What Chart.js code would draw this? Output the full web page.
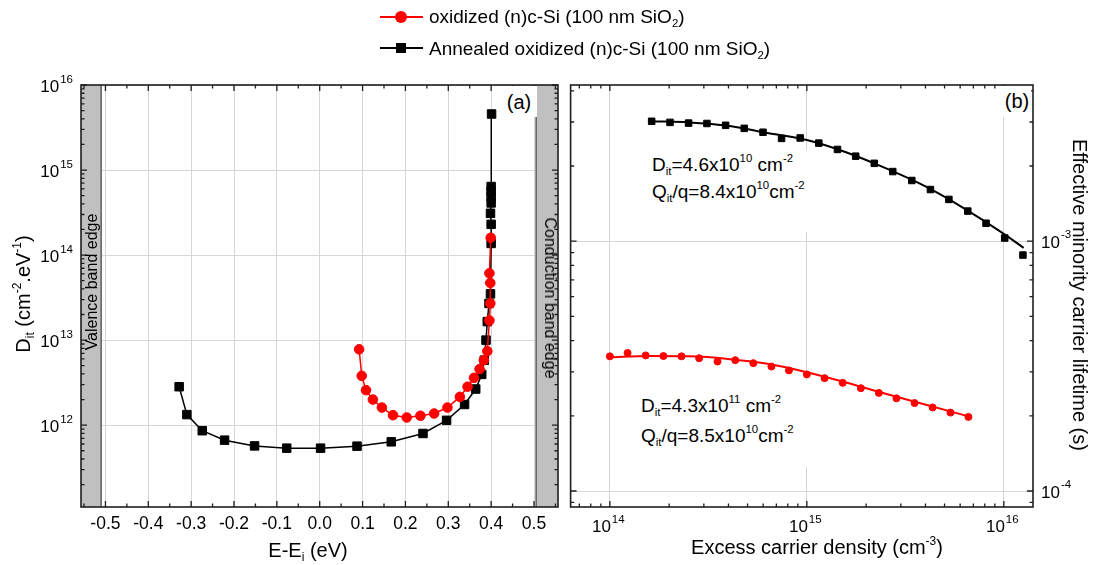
<!DOCTYPE html>
<html>
<head>
<meta charset="utf-8">
<script src="https://cdn.jsdelivr.net/npm/chart.js@4.4.1/dist/chart.umd.min.js"></script>
<style>
  body { margin: 0; background: #fff; font-family: "Liberation Sans", Arial, sans-serif; }
  #wrap { position: relative; width: 1093px; height: 565px; overflow: hidden; background: #fff; }
  canvas { position: absolute; top: 0; }
  .t { position: absolute; color: #000; white-space: nowrap; line-height: 1; }
  .t sub { font-size: 0.6em; vertical-align: -0.35em; line-height: 0; }
  .t sup { font-size: 0.6em; vertical-align: 0.75em; line-height: 0; }
  .box { position: absolute; background: #fff; }
  .mk { position: absolute; }
</style>
</head>
<body>
<div id="wrap">
  <canvas id="left" width="565" height="565" style="left:0"></canvas>
  <canvas id="right" width="528" height="565" style="left:565px"></canvas>

  <!-- legend -->
  <div class="mk" style="left:380px;top:16px;width:43px;height:2px;background:#ff0000"></div>
  <div class="mk" style="left:395px;top:11px;width:12px;height:12px;border-radius:50%;background:#ff0000"></div>
  <div class="t" style="left:429px;top:7px;font-size:19px">oxidized (n)c-Si (100 nm SiO<sub>2</sub>)</div>
  <div class="mk" style="left:380px;top:47px;width:43px;height:2px;background:#000"></div>
  <div class="mk" style="left:396px;top:43px;width:10px;height:10px;background:#000"></div>
  <div class="t" style="left:429px;top:39px;font-size:19px">Annealed oxidized (n)c-Si (100 nm SiO<sub>2</sub>)</div>

  <!-- panel labels -->
  <div class="box" style="left:503px;top:86px;width:34px;height:31px"></div>
  <div class="t" style="left:519px;top:92px;font-size:20px;transform:translateX(-50%)">(a)</div>
  <div class="box" style="left:996px;top:86px;width:35px;height:31px"></div>
  <div class="t" style="left:1017px;top:91px;font-size:20px;transform:translateX(-50%)">(b)</div>

  <!-- band edges -->
  <div class="t" style="left:92px;top:282px;font-size:16px;transform:translate(-50%,-50%) rotate(-90deg)">Valence band edge</div>
  <div class="t" style="left:550px;top:298px;font-size:16px;transform:translate(-50%,-50%) rotate(90deg)">Conduction band edge</div>

  <!-- fit annotations -->
  <div class="box" style="left:640px;top:150px;width:176px;height:82px"></div>
  <div class="t" style="left:652px;top:155px;font-size:19px">D<sub>it</sub>=4.6x10<sup>10</sup> cm<sup>-2</sup></div>
  <div class="t" style="left:652px;top:182px;font-size:19px">Q<sub>it</sub>/q=8.4x10<sup>10</sup>cm<sup>-2</sup></div>
  <div class="box" style="left:632px;top:380px;width:184px;height:87px"></div>
  <div class="t" style="left:641px;top:396px;font-size:19px">D<sub>it</sub>=4.3x10<sup>11</sup> cm<sup>-2</sup></div>
  <div class="t" style="left:641px;top:426px;font-size:19px">Q<sub>it</sub>/q=8.5x10<sup>10</sup>cm<sup>-2</sup></div>

  <!-- axis titles -->
  <div class="t" style="left:23px;top:294px;font-size:20px;transform:translate(-50%,-50%) rotate(-90deg)">D<sub>it</sub> (cm<sup>-2</sup>.eV<sup>-1</sup>)</div>
  <div class="t" style="left:308px;top:540px;font-size:20px;transform:translateX(-50%)">E-E<sub>i</sub> (eV)</div>
  <div class="t" style="left:817px;top:537px;font-size:20px;transform:translateX(-50%)">Excess carrier density (cm<sup>-3</sup>)</div>
  <div class="t" style="left:1080px;top:295px;font-size:20px;transform:translate(-50%,-50%) rotate(90deg)">Effective minority carrier lifetime (s)</div>
</div>

<script>
// ---- panel (a): Dit vs E-Ei ----
const energyOx = [0.092, 0.098, 0.108, 0.124, 0.145, 0.171, 0.203, 0.235, 0.267, 0.298, 0.327,
    0.345, 0.360, 0.373, 0.383, 0.391, 0.396, 0.398, 0.398, 0.396, 0.399];
const ditOx = [7.8e12, 3.8e12, 2.58e12, 2.0e12, 1.61e12, 1.31e12, 1.23e12, 1.29e12, 1.37e12, 1.61e12, 2.15e12,
    2.83e12, 3.6e12, 4.56e12, 5.8e12, 7.4e12, 1.7e13, 2.7e13, 4.7e13, 6.1e13, 1.6e14];

const energyAnn = [-0.328, -0.310, -0.274, -0.222, -0.152, -0.077, 0.002, 0.087, 0.167, 0.241, 0.296,
    0.338, 0.364, 0.378, 0.384, 0.388, 0.391, 0.395, 0.3985, 0.400, 0.400, 0.3985, 0.400, 0.400, 0.400, 0.400, 0.401];
const ditAnn = [2.83e12, 1.33e12, 8.6e11, 6.66e11, 5.7e11, 5.36e11, 5.36e11, 5.66e11, 6.37e11, 7.98e11, 1.14e12,
    1.75e12, 2.66e12, 3.95e12, 5.8e12, 1.0e13, 1.65e13, 2.7e13, 3.5e13, 1.37e14, 2.3e14, 3.1e14, 4.1e14, 4.9e14, 5.6e14, 6.4e14, 4.56e15];

const energyTicks = [-0.5, -0.4, -0.3, -0.2, -0.1, 0.0, 0.1, 0.2, 0.3, 0.4, 0.5];
const ditTicks = [1e12, 1e13, 1e14, 1e15, 1e16];

// ---- panel (b): lifetime vs excess carrier density ----
const densityOx = [1.0e14, 1.23e14, 1.52e14, 1.87e14, 2.31e14, 2.84e14, 3.52e14, 4.33e14, 5.35e14, 6.61e14, 8.11e14,
    1.0e15, 1.23e15, 1.52e15, 1.88e15, 2.32e15, 2.85e15, 3.52e15, 4.35e15, 5.36e15, 6.61e15];
const tauOx = [3.46e-4, 3.57e-4, 3.49e-4, 3.47e-4, 3.46e-4, 3.40e-4, 3.30e-4, 3.34e-4, 3.25e-4, 3.15e-4, 3.04e-4,
    2.93e-4, 2.83e-4, 2.71e-4, 2.58e-4, 2.47e-4, 2.35e-4, 2.25e-4, 2.16e-4, 2.06e-4, 1.98e-4];
const fitDensityOx = [1.0e14, 1.58e14, 2.51e14, 3.98e14, 6.31e14, 1.0e15, 1.58e15, 2.51e15, 3.98e15, 6.61e15];
const fitTauOx = [3.43e-4, 3.47e-4, 3.46e-4, 3.38e-4, 3.23e-4, 2.99e-4, 2.72e-4, 2.45e-4, 2.22e-4, 1.99e-4];

const densityAnn = [1.63e14, 2.02e14, 2.51e14, 3.11e14, 3.87e14, 4.81e14, 5.99e14, 7.44e14, 9.25e14, 1.15e15, 1.43e15,
    1.77e15, 2.20e15, 2.73e15, 3.41e15, 4.24e15, 5.26e15, 6.56e15, 8.12e15, 1.01e16, 1.25e16];
const tauAnn = [3.02e-3, 2.99e-3, 2.97e-3, 2.96e-3, 2.91e-3, 2.83e-3, 2.73e-3, 2.58e-3, 2.59e-3, 2.47e-3, 2.33e-3,
    2.19e-3, 2.05e-3, 1.90e-3, 1.75e-3, 1.61e-3, 1.47e-3, 1.32e-3, 1.18e-3, 1.03e-3, 8.8e-4];
const fitDensityAnn = [1.63e14, 2.51e14, 3.98e14, 6.31e14, 1.0e15, 1.58e15, 2.51e15, 3.98e15, 6.31e15, 1.0e16, 1.26e16];
const fitTauAnn = [3.02e-3, 2.99e-3, 2.90e-3, 2.71e-3, 2.54e-3, 2.27e-3, 1.96e-3, 1.66e-3, 1.35e-3, 1.07e-3, 9.4e-4];

const densityTicks = [1e14, 1e15, 1e16];
const tauTicks = [1e-4, 1e-3];

const RED = '#ff0000';
const BLACK = '#000000';
const GRID = '#d6d6d6';
const FONT = '"Liberation Sans", Arial, sans-serif';

const pts = (xs, ys) => xs.map((x, i) => ({ x: x, y: ys[i] }));

function logMinors(lo, hi) {
    const out = [];
    for (let e = Math.floor(Math.log10(lo)); e <= Math.ceil(Math.log10(hi)); e++) {
        for (let m = 2; m <= 9; m++) {
            const v = m * Math.pow(10, e);
            if (v >= lo && v <= hi) out.push(v);
        }
    }
    return out;
}

// draws "10" with a small raised exponent
function powLabel(ctx, v, x, y, mode) {
    const exp = String(Math.round(Math.log10(v)));
    ctx.font = '17px ' + FONT;
    const w10 = ctx.measureText('10').width;
    ctx.font = '11.5px ' + FONT;
    const we = ctx.measureText(exp).width;
    let x0 = x;
    if (mode === 'right') x0 = x - w10 - we - 1;
    else if (mode === 'tick') x0 = x - w10 + 1;
    ctx.textAlign = 'left';
    ctx.textBaseline = 'alphabetic';
    ctx.font = '17px ' + FONT;
    ctx.fillText('10', x0, y);
    ctx.font = '11.5px ' + FONT;
    ctx.fillText(exp, x0 + w10 + 1, y - 9.5);
}

function framePlugin(cfg) {
    return {
        id: 'frame',
        beforeDatasetsDraw(chart) {
            if (cfg.bands) cfg.bands(chart);
        },
        afterDraw(chart) {
            const ctx = chart.ctx, a = chart.chartArea;
            const xs = chart.scales.x, ys = chart.scales.y;
            ctx.save();
            ctx.strokeStyle = '#1e1e1e';
            ctx.lineWidth = 1.3;
            ctx.beginPath();
            const xt = (vals, len) => vals.forEach(v => {
                const p = xs.getPixelForValue(v);
                if (p < a.left || p > a.right) return;
                ctx.moveTo(p, a.bottom); ctx.lineTo(p, a.bottom - len);
                ctx.moveTo(p, a.top); ctx.lineTo(p, a.top + len);
            });
            const yt = (vals, len) => vals.forEach(v => {
                const p = ys.getPixelForValue(v);
                if (p < a.top || p > a.bottom) return;
                ctx.moveTo(a.left, p); ctx.lineTo(a.left + len, p);
                ctx.moveTo(a.right, p); ctx.lineTo(a.right - len, p);
            });
            xt(cfg.xMajor, 6); xt(cfg.xMinor, 3.5);
            yt(cfg.yMajor, 6); yt(cfg.yMinor, 3.5);
            ctx.stroke();
            ctx.lineWidth = 1.6;
            ctx.strokeRect(a.left, a.top, a.right - a.left, a.bottom - a.top);
            ctx.fillStyle = '#000';
            cfg.labels(chart, ctx, a, xs, ys);
            ctx.restore();
        }
    };
}

const fixTicks = (vals) => (s) => { s.ticks = vals.map(v => ({ value: v })); };

// ---------- left chart ----------
const energyMinor = [];
for (let k = -11; k <= 11; k += 2) energyMinor.push(k * 0.05);

new Chart(document.getElementById('left'), {
    type: 'scatter',
    data: {
        datasets: [{
            label: 'oxidized (n)c-Si (100 nm SiO2)',
            data: pts(energyOx, ditOx),
            showLine: true,
            borderColor: RED,
            borderWidth: 1.5,
            pointStyle: 'circle',
            pointRadius: 4.8,
            pointBorderWidth: 1,
            pointBackgroundColor: RED,
            pointBorderColor: RED
        }, {
            label: 'Annealed oxidized (n)c-Si (100 nm SiO2)',
            data: pts(energyAnn, ditAnn),
            showLine: true,
            borderColor: BLACK,
            borderWidth: 1.5,
            pointStyle: 'rect',
            pointRadius: 6,
            pointBorderWidth: 1,
            pointBackgroundColor: BLACK,
            pointBorderColor: BLACK
        }]
    },
    options: {
        responsive: false,
        animation: false,
        devicePixelRatio: 1,
        events: [],
        layout: { padding: { top: 85, right: 5, left: 0, bottom: 0 } },
        plugins: { legend: { display: false }, tooltip: { enabled: false } },
        scales: {
            x: {
                type: 'linear', min: -0.557, max: 0.556,
                afterBuildTicks: fixTicks(energyTicks),
                afterFit: s => { s.height = 58; },
                ticks: { display: false },
                grid: { color: GRID, lineWidth: 1, drawTicks: false },
                border: { display: false }
            },
            y: {
                type: 'logarithmic', min: 1.09e11, max: 1e16,
                afterBuildTicks: fixTicks(ditTicks),
                afterFit: s => { s.width = 81; },
                ticks: { display: false },
                grid: { color: GRID, lineWidth: 1, drawTicks: false },
                border: { display: false }
            }
        }
    },
    plugins: [framePlugin({
        xMajor: energyTicks, xMinor: energyMinor,
        yMajor: ditTicks, yMinor: logMinors(1.09e11, 1e16),
        bands(chart) {
            const ctx = chart.ctx, a = chart.chartArea, xs = chart.scales.x;
            const l = xs.getPixelForValue(-0.51), r = xs.getPixelForValue(0.505);
            ctx.save();
            ctx.fillStyle = '#c0c0c0';
            ctx.fillRect(a.left, a.top, l - a.left, a.bottom - a.top);
            ctx.fillRect(r, a.top, a.right - r, a.bottom - a.top);
            ctx.strokeStyle = '#5e5e5e';
            ctx.lineWidth = 1.5;
            ctx.beginPath();
            ctx.moveTo(l, a.top); ctx.lineTo(l, a.bottom);
            ctx.moveTo(r, a.top); ctx.lineTo(r, a.bottom);
            ctx.stroke();
            ctx.restore();
        },
        labels(chart, ctx, a, xs, ys) {
            ctx.font = '17.5px ' + FONT;
            ctx.textAlign = 'center';
            ctx.textBaseline = 'alphabetic';
            energyTicks.forEach(v => ctx.fillText(v.toFixed(1), xs.getPixelForValue(v), a.bottom + 21.5));
            ditTicks.forEach(v => powLabel(ctx, v, a.left - 8, ys.getPixelForValue(v) + 7.3, 'right'));
        }
    })]
});

// ---------- right chart ----------
new Chart(document.getElementById('right'), {
    type: 'scatter',
    data: {
        datasets: [{
            label: 'oxidized data',
            data: pts(densityOx, tauOx),
            pointStyle: 'circle',
            pointRadius: 3.5,
            pointBorderWidth: 1,
            pointBackgroundColor: RED,
            pointBorderColor: RED
        }, {
            label: 'annealed data',
            data: pts(densityAnn, tauAnn),
            pointStyle: 'rect',
            pointRadius: 4.6,
            pointBorderWidth: 1,
            pointBackgroundColor: BLACK,
            pointBorderColor: BLACK
        }, {
            label: 'oxidized fit',
            data: pts(fitDensityOx, fitTauOx),
            showLine: true,
            pointRadius: 0,
            borderColor: RED,
            borderWidth: 2,
            cubicInterpolationMode: 'monotone'
        }, {
            label: 'annealed fit',
            data: pts(fitDensityAnn, fitTauAnn),
            showLine: true,
            pointRadius: 0,
            borderColor: BLACK,
            borderWidth: 2,
            cubicInterpolationMode: 'monotone'
        }]
    },
    options: {
        responsive: false,
        animation: false,
        devicePixelRatio: 1,
        events: [],
        layout: { padding: { top: 85, right: 0, left: 2, bottom: 0 } },
        plugins: { legend: { display: false }, tooltip: { enabled: false } },
        scales: {
            x: {
                type: 'logarithmic', min: 6.32e13, max: 1.406e16,
                afterBuildTicks: fixTicks(densityTicks),
                afterFit: s => { s.height = 58; },
                ticks: { display: false },
                grid: { color: GRID, lineWidth: 1, drawTicks: false },
                border: { display: false }
            },
            y: {
                type: 'logarithmic', position: 'right', min: 8.63e-5, max: 4.22e-3,
                afterBuildTicks: fixTicks(tauTicks),
                afterFit: s => { s.width = 60; },
                ticks: { display: false },
                grid: { color: GRID, lineWidth: 1, drawTicks: false },
                border: { display: false }
            }
        }
    },
    plugins: [framePlugin({
        xMajor: densityTicks, xMinor: logMinors(6.32e13, 1.406e16),
        yMajor: tauTicks, yMinor: logMinors(8.63e-5, 4.22e-3),
        labels(chart, ctx, a, xs, ys) {
            densityTicks.forEach(v => powLabel(ctx, v, xs.getPixelForValue(v), a.bottom + 25, 'tick'));
            tauTicks.forEach(v => powLabel(ctx, v, a.right + 8, ys.getPixelForValue(v) + 6.6, 'left'));
        }
    })]
});
</script>
</body>
</html>
